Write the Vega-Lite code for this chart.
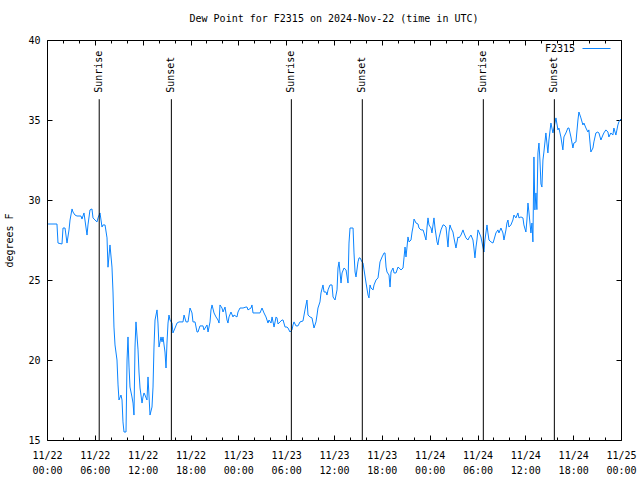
{
  "$schema": "https://vega.github.io/schema/vega-lite/v6.json",
  "width": 574,
  "height": 400,
  "autosize": {"type": "none"},
  "padding": {"left": 47, "top": 40, "right": 19, "bottom": 40},
  "title": {"text": "Dew Point for F2315 on 2024-Nov-22 (time in UTC)", "font": "DejaVu Sans Mono", "fontSize": 10, "fontWeight": "normal", "color": "#000", "offset": 10, "anchor": "middle"},
  "config": {
    "view": {"stroke": "#000", "strokeWidth": 1},
    "font": "DejaVu Sans Mono",
    "axis": {"grid": false, "domain": false, "labelFont": "DejaVu Sans Mono", "labelFontSize": 10, "labelColor": "#000", "tickColor": "#000", "tickWidth": 1, "titleFont": "DejaVu Sans Mono", "titleFontSize": 10, "titleFontWeight": "normal", "titleColor": "#000", "labelFlush": false, "labelOverlap": false}
  },
  "datasets": {
    "dew": [
      {"h":0.13,"v":28.5},{"h":1.25,"v":28.5},{"h":1.38,"v":27.31},{"h":1.88,"v":27.25},{"h":2.01,"v":28.25},{"h":2.26,"v":28.25},{"h":2.51,"v":27.31},{"h":2.76,"v":28.13},{"h":2.89,"v":28.75},{"h":3.14,"v":29.44},{"h":3.26,"v":29.25},{"h":3.51,"v":29.06},{"h":3.76,"v":29.0},{"h":4.26,"v":29.0},{"h":4.39,"v":28.81},{"h":4.64,"v":29.19},{"h":5.02,"v":27.81},{"h":5.14,"v":28.44},{"h":5.39,"v":29.38},{"h":5.64,"v":29.44},{"h":5.77,"v":28.88},{"h":6.02,"v":28.75},{"h":6.27,"v":28.63},{"h":6.40,"v":28.88},{"h":6.65,"v":29.19},{"h":6.90,"v":28.31},{"h":7.02,"v":28.44},{"h":7.28,"v":28.44},{"h":7.53,"v":27.63},{"h":7.65,"v":25.8},{"h":7.90,"v":27.19},{"h":8.15,"v":25.81},{"h":8.28,"v":24.25},{"h":8.40,"v":22.06},{"h":8.53,"v":20.94},{"h":8.78,"v":20.0},{"h":8.91,"v":18.44},{"h":9.03,"v":17.5},{"h":9.28,"v":17.81},{"h":9.41,"v":17.5},{"h":9.53,"v":16.13},{"h":9.66,"v":15.5},{"h":9.91,"v":15.5},{"h":10.04,"v":20.0},{"h":10.16,"v":21.44},{"h":10.29,"v":19.56},{"h":10.41,"v":18.31},{"h":10.66,"v":17.69},{"h":10.79,"v":17.31},{"h":10.91,"v":16.56},{"h":11.04,"v":20.81},{"h":11.16,"v":22.38},{"h":11.42,"v":20.63},{"h":11.54,"v":19.25},{"h":11.67,"v":18.25},{"h":11.92,"v":17.31},{"h":12.04,"v":17.69},{"h":12.17,"v":17.94},
      {"h":12.29,"v":17.81},{"h":12.54,"v":17.5},{"h":12.67,"v":18.94},{"h":12.92,"v":16.56},{"h":13.17,"v":17.06},{"h":13.30,"v":18.31},{"h":13.42,"v":20.81},{"h":13.55,"v":22.5},{"h":13.80,"v":23.13},{"h":13.92,"v":22.31},{"h":14.05,"v":20.81},{"h":14.30,"v":21.44},{"h":14.43,"v":21.13},{"h":14.55,"v":21.44},{"h":14.80,"v":20.5},{"h":14.93,"v":19.5},{"h":15.05,"v":21.06},{"h":15.18,"v":22.31},{"h":15.30,"v":22.81},{"h":15.43,"v":22.5},{"h":15.68,"v":22.31},{"h":15.80,"v":21.69},{"h":16.06,"v":22.0},{"h":16.31,"v":22.31},{"h":16.56,"v":22.38},{"h":17.06,"v":22.38},{"h":17.19,"v":22.81},{"h":17.44,"v":22.38},{"h":17.69,"v":22.38},{"h":17.94,"v":23.25},{"h":18.19,"v":22.94},{"h":18.31,"v":22.38},{"h":18.57,"v":22.38},{"h":18.82,"v":21.75},{"h":18.94,"v":21.75},{"h":19.19,"v":22.13},{"h":19.57,"v":22.13},{"h":19.69,"v":21.88},{"h":20.07,"v":22.19},{"h":20.20,"v":21.75},{"h":20.45,"v":22.38},{"h":20.57,"v":23.13},{"h":20.70,"v":23.44},{"h":20.95,"v":22.94},{"h":21.20,"v":22.69},{"h":21.45,"v":22.5},{"h":21.58,"v":22.31},{"h":21.70,"v":23.44},{"h":21.95,"v":23.25},{"h":22.08,"v":23.0},{"h":22.33,"v":23.31},{"h":22.58,"v":22.5},{"h":22.70,"v":22.31},{"h":22.83,"v":22.69},{"h":23.08,"v":23.0},{"h":23.33,"v":22.69},{"h":23.46,"v":22.81},{"h":23.83,"v":22.69},{"h":23.96,"v":23.0},{"h":24.21,"v":23.25},{"h":24.59,"v":23.25},{"h":24.96,"v":23.31},
      {"h":25.09,"v":23.31},{"h":25.21,"v":23.13},{"h":25.59,"v":23.25},{"h":25.71,"v":23.44},{"h":25.84,"v":22.94},{"h":26.72,"v":22.94},{"h":26.97,"v":23.25},{"h":27.22,"v":22.94},{"h":27.47,"v":22.69},{"h":27.72,"v":22.31},{"h":27.85,"v":22.5},{"h":28.10,"v":22.31},{"h":28.23,"v":22.69},{"h":28.48,"v":22.06},{"h":28.73,"v":22.69},{"h":28.85,"v":22.63},{"h":28.98,"v":22.25},{"h":29.23,"v":22.38},{"h":29.48,"v":22.5},{"h":29.61,"v":22.5},{"h":29.86,"v":22.06},{"h":30.11,"v":22.06},{"h":30.23,"v":22.0},{"h":30.48,"v":21.75},{"h":30.73,"v":21.88},{"h":30.86,"v":22.19},{"h":30.98,"v":22.38},{"h":31.23,"v":22.13},{"h":31.48,"v":22.13},{"h":31.74,"v":22.38},{"h":32.11,"v":22.44},{"h":32.36,"v":23.13},{"h":32.61,"v":23.75},{"h":32.74,"v":22.81},{"h":32.99,"v":22.69},{"h":33.24,"v":22.63},{"h":33.49,"v":22.0},{"h":33.74,"v":22.38},{"h":33.87,"v":22.81},{"h":33.99,"v":23.25},{"h":34.24,"v":23.63},{"h":34.37,"v":24.19},{"h":34.62,"v":24.69},{"h":34.75,"v":24.25},{"h":35.00,"v":24.25},{"h":35.12,"v":24.06},{"h":35.25,"v":24.38},{"h":35.50,"v":24.69},{"h":35.75,"v":24.69},{"h":35.88,"v":23.94},{"h":36.13,"v":23.75},{"h":36.38,"v":24.38},{"h":36.50,"v":25.75},{"h":36.63,"v":26.13},{"h":36.88,"v":24.81},{"h":37.01,"v":25.44},{"h":37.26,"v":25.75},
      {"h":37.51,"v":25.63},{"h":37.76,"v":24.81},{"h":37.88,"v":27.31},{"h":38.01,"v":28.25},{"h":38.39,"v":28.25},{"h":38.51,"v":26.69},{"h":38.64,"v":25.5},{"h":38.76,"v":25.19},{"h":39.01,"v":26.13},{"h":39.14,"v":26.38},{"h":39.27,"v":26.38},{"h":39.52,"v":26.13},{"h":39.64,"v":26.06},{"h":39.77,"v":25.63},{"h":40.02,"v":24.81},{"h":40.27,"v":24.06},{"h":40.39,"v":23.88},{"h":40.52,"v":24.69},{"h":40.64,"v":24.5},{"h":40.90,"v":24.38},{"h":41.02,"v":24.69},{"h":41.27,"v":25.0},{"h":41.52,"v":25.13},{"h":41.65,"v":25.63},{"h":41.77,"v":26.13},{"h":42.03,"v":26.44},{"h":42.28,"v":26.69},{"h":42.40,"v":26.69},{"h":42.53,"v":25.81},{"h":42.65,"v":25.5},{"h":42.90,"v":25.31},{"h":43.03,"v":24.56},{"h":43.15,"v":25.5},{"h":43.40,"v":25.75},{"h":43.53,"v":25.44},{"h":43.78,"v":25.44},{"h":44.03,"v":25.81},{"h":44.16,"v":25.75},{"h":44.41,"v":25.63},{"h":44.66,"v":25.75},{"h":44.78,"v":26.38},{"h":44.91,"v":27.06},{"h":45.03,"v":26.44},{"h":45.16,"v":27.06},{"h":45.28,"v":27.69},{"h":45.41,"v":27.38},{"h":45.66,"v":27.5},{"h":45.79,"v":28.0},{"h":45.91,"v":28.31},{"h":46.04,"v":28.81},{"h":46.29,"v":28.56},{"h":46.54,"v":28.5},{"h":46.66,"v":28.25},{"h":46.91,"v":28.13},{"h":47.17,"v":28.13},{"h":47.29,"v":27.94},{"h":47.54,"v":27.5},{"h":47.67,"v":28.31},{"h":47.79,"v":28.88},{"h":47.92,"v":28.44},{"h":48.17,"v":28.25},{"h":48.29,"v":27.94},{"h":48.42,"v":28.44},{"h":48.54,"v":28.88},{"h":48.67,"v":28.25},{"h":48.92,"v":27.38},{"h":49.04,"v":27.19},{"h":49.17,"v":27.63},{"h":49.42,"v":28.13},{"h":49.67,"v":28.44},{"h":49.80,"v":28.44},{"h":50.05,"v":28.31},
      {"h":50.30,"v":27.06},{"h":50.42,"v":28.0},{"h":50.55,"v":28.44},{"h":50.67,"v":28.25},{"h":50.92,"v":28.0},{"h":51.05,"v":27.63},{"h":51.30,"v":27.0},{"h":51.55,"v":27.69},{"h":51.68,"v":27.63},{"h":51.93,"v":27.81},{"h":52.18,"v":28.13},{"h":52.30,"v":27.94},{"h":52.55,"v":27.63},{"h":52.80,"v":27.5},{"h":52.93,"v":27.63},{"h":53.18,"v":27.81},{"h":53.43,"v":27.5},{"h":53.55,"v":27.0},{"h":53.68,"v":26.38},{"h":53.81,"v":27.06},{"h":53.93,"v":27.5},{"h":54.06,"v":28.13},{"h":54.18,"v":28.0},{"h":54.43,"v":27.69},{"h":54.68,"v":27.06},{"h":54.81,"v":26.75},{"h":54.93,"v":27.5},{"h":55.19,"v":28.44},{"h":55.31,"v":27.94},{"h":55.44,"v":27.5},{"h":55.69,"v":27.38},{"h":55.94,"v":27.31},{"h":56.06,"v":27.5},{"h":56.31,"v":27.94},{"h":56.56,"v":28.13},{"h":56.69,"v":27.94},{"h":56.94,"v":28.25},{"h":57.19,"v":27.94},{"h":57.32,"v":27.5},{"h":57.57,"v":28.13},{"h":57.69,"v":28.56},{"h":57.82,"v":28.75},{"h":57.94,"v":28.31},{"h":58.19,"v":28.44},{"h":58.44,"v":28.75},{"h":58.57,"v":29.06},{"h":58.82,"v":28.88},{"h":59.07,"v":29.19},{"h":59.20,"v":28.88},{"h":59.45,"v":28.94},{"h":59.70,"v":28.88},{"h":59.82,"v":28.44},{"h":60.07,"v":28.0},{"h":60.20,"v":28.75},{"h":60.33,"v":29.81},{"h":60.45,"v":29.25},{"h":60.70,"v":27.94},{"h":60.83,"v":28.56},{"h":60.95,"v":27.38},{"h":61.08,"v":32.69},{"h":61.20,"v":29.38},{"h":61.33,"v":30.44},{"h":61.45,"v":29.4},{"h":61.58,"v":32.94},{"h":61.71,"v":33.56},{"h":61.83,"v":32.5},{"h":61.96,"v":31.0},{"h":62.08,"v":30.81},{"h":62.21,"v":32.5},{"h":62.33,"v":33.0},{"h":62.58,"v":34.19},{"h":62.83,"v":32.94},{"h":62.96,"v":33.75},{"h":63.21,"v":34.81},{"h":63.46,"v":34.19},{"h":63.59,"v":34.5},{"h":63.84,"v":35.13},{"h":64.09,"v":34.38},{"h":64.21,"v":34.5},{"h":64.46,"v":33.94},{"h":64.71,"v":33.13},{"h":64.84,"v":33.94},{"h":65.09,"v":34.19},{"h":65.34,"v":34.5},{"h":65.47,"v":34.5},{"h":65.72,"v":33.94},{"h":65.97,"v":33.25},{"h":66.09,"v":33.56},{"h":66.35,"v":33.63},{"h":66.60,"v":35.0},{"h":66.72,"v":35.5},{"h":66.97,"v":35.13},{"h":67.22,"v":34.69},{"h":67.35,"v":34.81},{"h":67.60,"v":34.5},{"h":67.85,"v":34.25},{"h":67.97,"v":34.38},{"h":68.22,"v":33.0},{"h":68.48,"v":33.25},{"h":68.60,"v":33.63},{"h":68.85,"v":34.19},{"h":69.10,"v":34.25},{"h":69.23,"v":34.19},{"h":69.48,"v":33.75},{"h":69.73,"v":34.06},{"h":69.85,"v":34.19},{"h":70.10,"v":34.38},{"h":70.36,"v":34.25},{"h":70.48,"v":33.94},{"h":70.73,"v":34.19},{"h":70.98,"v":34.06},{"h":71.11,"v":34.5},{"h":71.36,"v":34.06},{"h":71.61,"v":34.69},{"h":71.73,"v":34.88},{"h":71.98,"v":35.06}
    ],
    "events": [
      {"h": 6.55, "event": "Sunrise"},
      {"h": 15.6, "event": "Sunset"},
      {"h": 30.65, "event": "Sunrise"},
      {"h": 39.55, "event": "Sunset"},
      {"h": 54.73, "event": "Sunrise"},
      {"h": 63.64, "event": "Sunset"}
    ]
  },
  "layer": [
    {
      "data": {"name": "dew"},
      "mark": {"type": "line", "strokeWidth": 1, "interpolate": "linear"},
      "encoding": {
        "x": {"field": "h", "type": "quantitative", "scale": {"domain": [0, 72], "nice": false, "zero": false},
              "axis": {"orient": "bottom", "title": null, "values": [0,6,12,18,24,30,36,42,48,54,60,66,72], "tickSize": -5, "labelPadding": 15, "labelBaseline": "top", "labelLineHeight": 15,
                       "labelExpr": "['11/' + (22 + floor(datum.value / 24)), pad(toString(datum.value % 24), 2, '0', 'left') + ':00']"}},
        "y": {"field": "v", "type": "quantitative", "scale": {"domain": [15, 40], "nice": false, "zero": false},
              "axis": {"orient": "left", "title": "degrees F", "values": [15,20,25,30,35,40], "tickSize": -5, "labelPadding": 12, "titlePadding": 13}},
        "color": {"datum": "F2315", "type": "nominal", "scale": {"range": ["#0a84ff"]},
                  "legend": {"orient": "none", "legendX": 535, "legendY": -6, "title": null, "symbolType": "stroke", "symbolSize": 784, "symbolStrokeWidth": 1, "labelOffset": -36, "labelAlign": "right", "labelFont": "DejaVu Sans Mono", "labelFontSize": 10, "labelColor": "#000"}}
      }
    },
    {
      "data": {"name": "events"},
      "transform": [{"filter": "datum.event == 'Sunrise'"}],
      "mark": {"type": "rule", "color": "#000", "strokeWidth": 1},
      "encoding": {
        "x": {"field": "h", "type": "quantitative", "axis": {"orient": "top", "title": null, "labels": false, "values": [0,6,12,18,24,30,36,42,48,54,60,66,72], "tickSize": -5}},
        "y": {"datum": 15, "type": "quantitative", "axis": {"orient": "right", "title": null, "labels": false, "values": [15,20,25,30,35,40], "tickSize": -5}},
        "y2": {"datum": 36.3}
      }
    },
    {
      "data": {"name": "events"},
      "transform": [{"filter": "datum.event == 'Sunset'"}],
      "mark": {"type": "rule", "color": "#000", "strokeWidth": 1},
      "encoding": {
        "x": {"field": "h", "type": "quantitative", "axis": {"orient": "top", "title": null, "labels": false, "values": [2,4,8,10,14,16,20,22,26,28,32,34,38,40,44,46,50,52,56,58,62,64,68,70], "tickSize": -3}},
        "y": {"datum": 15, "type": "quantitative", "axis": null},
        "y2": {"datum": 36.3}
      }
    },
    {
      "data": {"name": "events"},
      "mark": {"type": "text", "angle": 270, "align": "left", "baseline": "middle", "font": "DejaVu Sans Mono", "fontSize": 10, "color": "#000"},
      "encoding": {
        "x": {"field": "h", "type": "quantitative", "axis": {"orient": "bottom", "title": null, "labels": false, "values": [2,4,8,10,14,16,20,22,26,28,32,34,38,40,44,46,50,52,56,58,62,64,68,70], "tickSize": -3}},
        "y": {"datum": 36.7, "type": "quantitative", "axis": null},
        "text": {"field": "event"}
      }
    }
  ],
  "resolve": {"axis": {"x": "independent", "y": "independent"}}
}
